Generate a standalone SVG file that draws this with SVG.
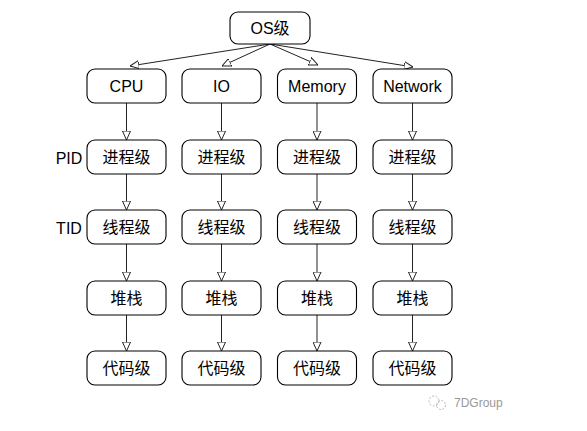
<svg xmlns="http://www.w3.org/2000/svg" width="587" height="431" viewBox="0 0 587 431">
<style>
.box{fill:#fff;stroke:#000;stroke-width:1.1}
.t{font-family:"Liberation Sans","Noto Sans CJK SC",sans-serif;font-size:16px;fill:#000;text-anchor:middle;dominant-baseline:central}
.lbl{font-family:"Liberation Sans","Noto Sans CJK SC",sans-serif;font-size:16px;fill:#000;text-anchor:middle;dominant-baseline:central}
.c{stroke:#222;stroke-width:1;fill:none;marker-end:url(#ah)}
.wm{font-family:"Liberation Sans",sans-serif;font-size:12px;fill:#999}
</style>
<defs>
<marker id="ah" viewBox="0 0 10 10" refX="10" refY="5" markerWidth="9" markerHeight="9" markerUnits="userSpaceOnUse" orient="auto">
<path d="M0,0.5 L10,5 L0,9.5 Z" fill="#fff" stroke="#222" stroke-width="1.1"/>
</marker>
</defs>
<rect width="587" height="431" fill="#fff"/>
<g id="connectors">
<line class="c" x1="270" y1="44" x2="130" y2="66"/>
<line class="c" x1="270" y1="44" x2="222" y2="66"/>
<line class="c" x1="270" y1="44" x2="318" y2="65"/>
<line class="c" x1="270" y1="44" x2="413" y2="67"/>
<line class="c" x1="126.5" y1="103" x2="126.5" y2="140"/>
<line class="c" x1="126.5" y1="174" x2="126.5" y2="210"/>
<line class="c" x1="126.5" y1="244" x2="126.5" y2="281"/>
<line class="c" x1="126.5" y1="315" x2="126.5" y2="351"/>
<line class="c" x1="221.5" y1="103" x2="221.5" y2="140"/>
<line class="c" x1="221.5" y1="174" x2="221.5" y2="210"/>
<line class="c" x1="221.5" y1="244" x2="221.5" y2="281"/>
<line class="c" x1="221.5" y1="315" x2="221.5" y2="351"/>
<line class="c" x1="317" y1="103" x2="317" y2="140"/>
<line class="c" x1="317" y1="174" x2="317" y2="210"/>
<line class="c" x1="317" y1="244" x2="317" y2="281"/>
<line class="c" x1="317" y1="315" x2="317" y2="351"/>
<line class="c" x1="412.5" y1="103" x2="412.5" y2="140"/>
<line class="c" x1="412.5" y1="174" x2="412.5" y2="210"/>
<line class="c" x1="412.5" y1="244" x2="412.5" y2="281"/>
<line class="c" x1="412.5" y1="315" x2="412.5" y2="351"/>
</g>
<g id="os"><rect class="box" x="230" y="12" width="80" height="32" rx="8"/><text class="t" x="270" y="28" font-size="17">OS级</text></g>
<g id="cpu"><rect class="box" x="87" y="69" width="79" height="34" rx="8"/><text class="t" x="126.5" y="86">CPU</text></g>
<g id="io"><rect class="box" x="182" y="69" width="79" height="34" rx="8"/><text class="t" x="221.5" y="86">IO</text></g>
<g id="memory"><rect class="box" x="277.5" y="69" width="79" height="34" rx="8"/><text class="t" x="317" y="86">Memory</text></g>
<g id="network"><rect class="box" x="373" y="69" width="79" height="34" rx="8"/><text class="t" x="412.5" y="86">Network</text></g>
<g id="cpu-pid"><rect class="box" x="87" y="140" width="79" height="34" rx="8"/><text class="t" x="126.5" y="157">进程级</text></g>
<g id="io-pid"><rect class="box" x="182" y="140" width="79" height="34" rx="8"/><text class="t" x="221.5" y="157">进程级</text></g>
<g id="mem-pid"><rect class="box" x="277.5" y="140" width="79" height="34" rx="8"/><text class="t" x="317" y="157">进程级</text></g>
<g id="net-pid"><rect class="box" x="373" y="140" width="79" height="34" rx="8"/><text class="t" x="412.5" y="157">进程级</text></g>
<g id="cpu-tid"><rect class="box" x="87" y="210" width="79" height="34" rx="8"/><text class="t" x="126.5" y="227">线程级</text></g>
<g id="io-tid"><rect class="box" x="182" y="210" width="79" height="34" rx="8"/><text class="t" x="221.5" y="227">线程级</text></g>
<g id="mem-tid"><rect class="box" x="277.5" y="210" width="79" height="34" rx="8"/><text class="t" x="317" y="227">线程级</text></g>
<g id="net-tid"><rect class="box" x="373" y="210" width="79" height="34" rx="8"/><text class="t" x="412.5" y="227">线程级</text></g>
<g id="cpu-stack"><rect class="box" x="87" y="281" width="79" height="34" rx="8"/><text class="t" x="126.5" y="298">堆栈</text></g>
<g id="io-stack"><rect class="box" x="182" y="281" width="79" height="34" rx="8"/><text class="t" x="221.5" y="298">堆栈</text></g>
<g id="mem-stack"><rect class="box" x="277.5" y="281" width="79" height="34" rx="8"/><text class="t" x="317" y="298">堆栈</text></g>
<g id="net-stack"><rect class="box" x="373" y="281" width="79" height="34" rx="8"/><text class="t" x="412.5" y="298">堆栈</text></g>
<g id="cpu-code"><rect class="box" x="87" y="351" width="79" height="34" rx="8"/><text class="t" x="126.5" y="368">代码级</text></g>
<g id="io-code"><rect class="box" x="182" y="351" width="79" height="34" rx="8"/><text class="t" x="221.5" y="368">代码级</text></g>
<g id="mem-code"><rect class="box" x="277.5" y="351" width="79" height="34" rx="8"/><text class="t" x="317" y="368">代码级</text></g>
<g id="net-code"><rect class="box" x="373" y="351" width="79" height="34" rx="8"/><text class="t" x="412.5" y="368">代码级</text></g>
<g id="labels">
<text class="lbl" x="69" y="158">PID</text>
<text class="lbl" x="69" y="228">TID</text>
</g>
<g id="watermark">
<circle cx="434" cy="401" r="5" fill="none" stroke="#bbb" stroke-width="1" stroke-dasharray="2,1.5"/>
<circle cx="441" cy="405" r="4.5" fill="none" stroke="#bbb" stroke-width="1" stroke-dasharray="2,1.5"/>
<text class="wm" x="454" y="407">7DGroup</text>
</g>
</svg>
